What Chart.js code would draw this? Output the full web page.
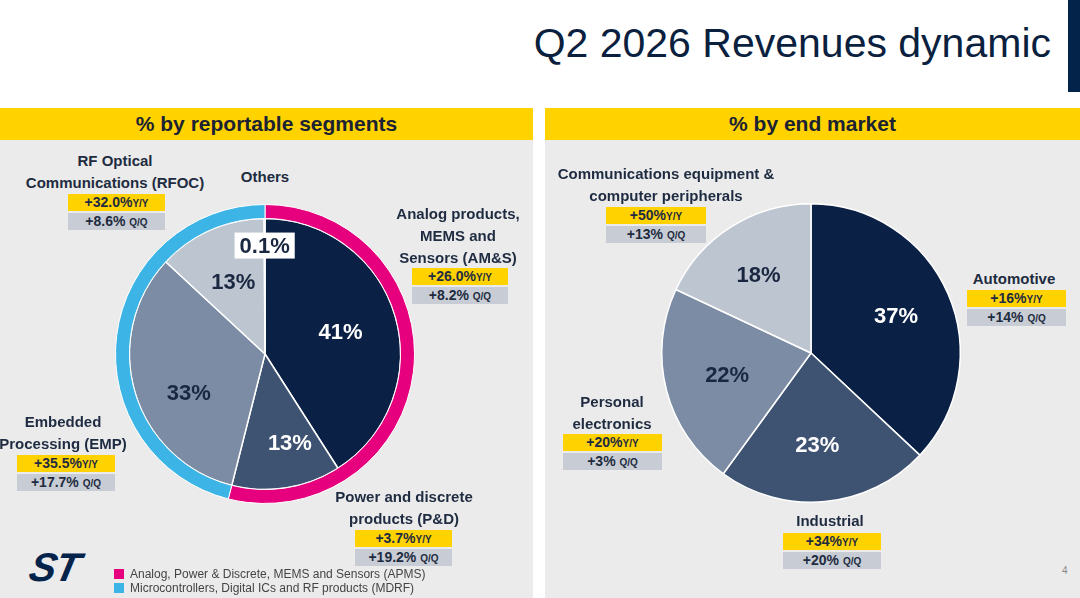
<!DOCTYPE html>
<html>
<head>
<meta charset="utf-8">
<script src="https://cdn.jsdelivr.net/npm/chart.js@4.4.0/dist/chart.umd.min.js"></script>
<style>
  body { margin: 0; width: 1080px; height: 598px; position: relative; overflow: hidden; background: #fff;
         font-family: "Liberation Sans", Arial, sans-serif; color: #1a2740; }
  .abs { position: absolute; }
  #title { right: 29px; top: 20px; font-size: 41px; color: #0b1f3f; white-space: nowrap; }
  #navbar { left: 1068px; top: 0; width: 12px; height: 92px; background: #03234b; }
  .band { top: 108px; height: 32px; background: #ffd200; font-weight: bold; font-size: 21px; line-height: 32px; text-align: center; color: #1a2233; }
  .panel { top: 140px; height: 458px; background: #ebebeb; }
  canvas { position: absolute; }
  .name { font-weight: bold; font-size: 15px; line-height: 22px; text-align: center; white-space: pre-line; transform: translateX(-50%); color: #1e2b40; }
  .box { height: 17px; line-height: 17px; text-align: center; font-weight: bold; font-size: 14px; color: #1e2b40; white-space: nowrap; }
  .box small { font-size: 10px; }
  .yy { background: #ffd200; }
  .qq { background: #c8cdd5; }
  .leg { font-size: 12px; color: #444; white-space: nowrap; }
  .sw { width: 10px; height: 10px; }
  #logo { left: 30px; top: 545px; font-size: 40px; font-weight: bold; font-style: italic; color: #03234b; letter-spacing: -1px; transform: skewX(-12deg); }
  #page { left: 1062px; top: 565px; font-size: 10px; color: #888; }
</style>
</head>
<body>
<div id="title" class="abs">Q2 2026 Revenues dynamic</div>
<div id="navbar" class="abs"></div>
<div class="abs band" style="left:0;width:533px">% by reportable segments</div>
<div class="abs band" style="left:545px;width:535px">% by end market</div>
<div class="abs panel" style="left:0;width:533px"></div>
<div class="abs panel" style="left:545px;width:535px"></div>
<canvas id="segChart" width="320" height="320" style="left:105px;top:194px"></canvas>
<canvas id="mktChart" width="320" height="320" style="left:651px;top:193px"></canvas>
<div id="logo" class="abs">ST</div>
<div id="page" class="abs">4</div>
<script>
// reportable segments, clockwise from 12 o'clock
const segmentNames = ["Analog products,\nMEMS and\nSensors (AM&S)", "Power and discrete\nproducts (P&D)", "Embedded\nProcessing (EMP)", "RF Optical\nCommunications (RFOC)", "Others"];
const segmentShare = [41, 13, 33, 13, 0.1];
const segmentYoY = ["+26.0%", "+3.7%", "+35.5%", "+32.0%", null];
const segmentQoQ = ["+8.2%", "+19.2%", "+17.7%", "+8.6%", null];

// outer ring groups
const groupNames = ["Analog, Power & Discrete, MEMS and Sensors (APMS)", "Microcontrollers, Digital ICs and RF products (MDRF)"];
const groupShare = [segmentShare[0] + segmentShare[1], segmentShare[2] + segmentShare[3] + segmentShare[4]];

// end markets, clockwise from 12 o'clock
const marketNames = ["Automotive", "Industrial", "Personal\nelectronics", "Communications equipment &\ncomputer peripherals"];
const marketShare = [37, 23, 22, 18];
const marketYoY = ["+16%", "+34%", "+20%", "+50%"];
const marketQoQ = ["+14%", "+20%", "+3%", "+13%"];

const sliceColors = ["#0b2045", "#3e5272", "#7b8ca4", "#bdc5d1", "#d9dde4"];
const sliceText = ["#fff", "#fff", "#1a2740", "#1a2740", "#1a2740"];
const groupColors = ["#e6007e", "#3cb4e6"];

// callout placement: name centre x, name top, box left, box width, box top
const segmentPos = [
  [458, 203, 412, 96, 268],
  [404, 486, 355, 97, 530],
  [63, 411, 17, 98, 455],
  [115, 150, 68, 97, 194],
  [265, 166, 0, 0, 0]
];
const marketPos = [
  [1014, 268, 967, 99, 290],
  [830, 510, 783, 98, 533],
  [612, 391, 563, 99, 434],
  [666, 163, 606, 100, 207]
];

function addCallouts(names, yoy, qoq, pos) {
  names.forEach((n, i) => {
    const [cx, top, bx, bw, by] = pos[i];
    let d = document.createElement("div");
    d.className = "abs name";
    d.style.left = cx + "px";
    d.style.top = top + "px";
    d.textContent = n;
    document.body.append(d);
    if (!yoy[i]) return;
    let y = document.createElement("div");
    y.className = "abs box yy";
    y.style.cssText = `left:${bx}px;top:${by}px;width:${bw}px`;
    y.innerHTML = `${yoy[i]}<small>Y/Y</small>`;
    document.body.append(y);
    let q = document.createElement("div");
    q.className = "abs box qq";
    q.style.cssText = `left:${bx}px;top:${by + 19}px;width:${bw}px`;
    q.innerHTML = `${qoq[i]} <small>Q/Q</small>`;
    document.body.append(q);
  });
}
addCallouts(segmentNames, segmentYoY, segmentQoQ, segmentPos);
addCallouts(marketNames, marketYoY, marketQoQ, marketPos);

// legend for the ring
groupNames.forEach((g, i) => {
  let s = document.createElement("div");
  s.className = "abs sw";
  s.style.cssText = `left:114px;top:${569 + i * 14}px;background:${groupColors[i]}`;
  document.body.append(s);
  let t = document.createElement("div");
  t.className = "abs leg";
  t.style.cssText = `left:130px;top:${567 + i * 14}px`;
  t.textContent = g;
  document.body.append(t);
});

// percent labels inside the pie slices (last dataset)
// opts.dist: fraction of radius, opts.turn: small angle nudge (deg) per slice
const sliceLabels = {
  id: "sliceLabels",
  afterDatasetsDraw(chart, args, opts) {
    const di = chart.data.datasets.length - 1;
    const vals = chart.data.datasets[di].data;
    const c = chart.ctx;
    chart.getDatasetMeta(di).data.forEach((arc, i) => {
      const v = vals[i];
      const p = arc.getProps(["x", "y", "startAngle", "endAngle", "outerRadius"], true);
      const tiny = v < 1;
      const mid = (p.startAngle + p.endAngle) / 2 + ((opts.turn && opts.turn[i]) || 0) * Math.PI / 180;
      const r = p.outerRadius * (tiny ? 0.8 : opts.dist[i]);
      const x = p.x + Math.cos(mid) * r;
      const y = p.y + Math.sin(mid) * r;
      const txt = (tiny ? v.toFixed(1) : Math.round(v)) + "%";
      c.save();
      c.font = 'bold 22px "Liberation Sans", Arial, sans-serif';
      c.textAlign = "center";
      c.textBaseline = "middle";
      if (tiny) {
        const w = c.measureText(txt).width + 10;
        c.fillStyle = "#fff";
        c.fillRect(x - w / 2, y - 13, w, 26);
      }
      c.fillStyle = sliceText[i];
      c.fillText(txt, x, y + 1);
      c.restore();
    });
  }
};

const common = {
  responsive: false,
  animation: false,
  layout: { padding: 10 },
  plugins: { legend: { display: false }, tooltip: { enabled: false } }
};

new Chart(document.getElementById("segChart"), {
  type: "pie",
  data: {
    labels: segmentNames,
    datasets: [
      { data: groupShare, backgroundColor: groupColors, borderColor: "#fff", borderWidth: 1, weight: 14 },
      { data: segmentShare, backgroundColor: sliceColors, borderColor: "#fff", borderWidth: 1.5, weight: 136 }
    ]
  },
  options: { ...common, plugins: { ...common.plugins, sliceLabels: { dist: [0.58, 0.68, 0.63, 0.58], turn: [0, -6.5, -10.5, 0] } } },
  plugins: [sliceLabels]
});

new Chart(document.getElementById("mktChart"), {
  type: "pie",
  data: {
    labels: marketNames,
    datasets: [
      { data: marketShare, backgroundColor: sliceColors, borderColor: "#fff", borderWidth: 1.5 }
    ]
  },
  options: { ...common, plugins: { ...common.plugins, sliceLabels: { dist: [0.62, 0.62, 0.58, 0.63], turn: [0, 1.5, 0, -1.5] } } },
  plugins: [sliceLabels]
});
</script>
</body>
</html>
